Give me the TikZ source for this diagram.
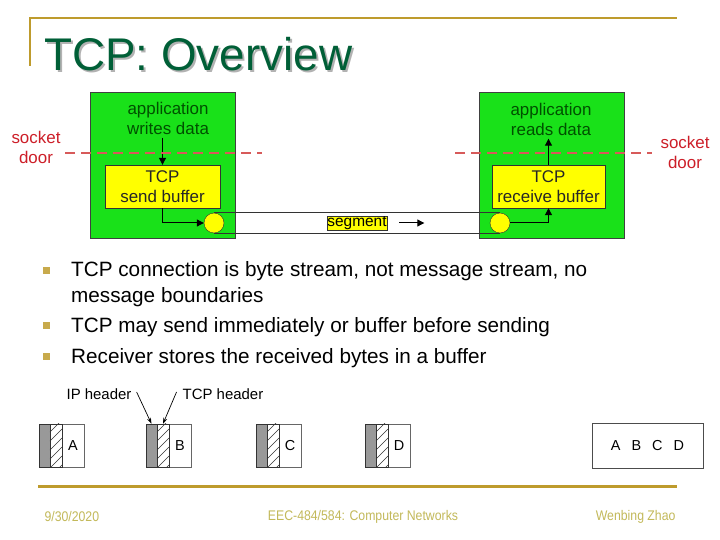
\documentclass[tikz,border=0pt]{standalone}
\usepackage{fontspec}
\setmainfont{Liberation Sans}
\newfontfamily\narrowfont[FakeStretch=0.88]{Liberation Sans}
\usepackage{xcolor}
\usetikzlibrary{arrows.meta,positioning,calc}

\definecolor{slidegold}{RGB}{190,155,45}
\definecolor{titlegreen}{RGB}{0,95,55}
\definecolor{appgreen}{RGB}{25,225,25}
\definecolor{textgreen}{RGB}{0,80,0}
\definecolor{bufyellow}{RGB}{255,255,0}
\definecolor{sockred}{RGB}{205,30,40}
\definecolor{doorred}{RGB}{215,90,90}
\definecolor{footgold}{RGB}{195,185,90}

\begin{document}
\begin{tikzpicture}[x=1bp, y=-1bp,
  appbox/.style={draw=black!75, fill=appgreen, minimum width=145bp, minimum height=146bp, inner sep=0pt},
  bufbox/.style={draw=black!80, fill=bufyellow, minimum width=115bp, minimum height=43bp, inner sep=0pt,
    align=center, text=black!85, font=\fontsize{17}{20}\selectfont},
  apptext/.style={text=textgreen, align=center, font=\fontsize{17}{20}\selectfont},
  socktext/.style={text=sockred, align=center, font=\fontsize{17}{20}\selectfont},
  port/.style={circle, draw=black!80, fill=bufyellow, minimum size=20bp, inner sep=0pt},
  arr/.style={-{Triangle[length=7bp, width=7bp]}, line width=1bp},
  doorline/.style={doorred, dashed, dash pattern=on 10bp off 6bp, line width=1.2bp},
  bullet/.style={fill=slidegold!85, minimum size=7bp, inner sep=0pt},
  btext/.style={anchor=base west, inner sep=0pt, font=\fontsize{20.8}{24}\selectfont},
  iphdr/.style={draw=black!80, fill=black!40, minimum width=11bp, minimum height=43bp, inner sep=0pt},
  tcphdr/.style={draw=black!80, minimum width=12bp, minimum height=43bp, inner sep=0pt},
  datbox/.style={draw=black!60, minimum width=22bp, minimum height=43bp, inner sep=0pt, font=\fontsize{14.5}{16}\selectfont},
  hdrlabel/.style={font=\fontsize{15}{17}\selectfont, inner sep=1pt},
  harr/.style={-{Stealth[length=6bp, width=4bp]}, line width=0.7bp},
  foot/.style={text=footgold, font=\narrowfont\fontsize{14}{16}\selectfont}
]
\useasboundingbox[fill=white] (0,0) rectangle (720,540);

% title frame
\coordinate (frameL) at (30,66);
\coordinate (frameTL) at (30,18);
\coordinate (frameTR) at (677,18);
\draw[slidegold, line width=2.5bp] (frameL) -- (frameTL) -- (frameTR);
\node[anchor=base west, text=black!30, font=\fontsize{46}{50}\selectfont, inner sep=0pt] (titleshadow) at (46,73) {TCP: Overview};
\node[anchor=base west, text=titlegreen, font=\fontsize{46}{50}\selectfont, inner sep=0pt] (title) at (44,71) {TCP: Overview};

% sender and receiver hosts
\node[appbox] (sender) at (162.5,165) {};
\node[appbox] (receiver) at (551.5,165) {};
\node[apptext] (wtext) at (168,118) {application\\writes data};
\node[apptext] (rtext) at (551,119) {application\\reads data};
\node[bufbox] (sbuf) at (162.5,186.5) {TCP\\send buffer};
\node[bufbox, minimum width=113bp] (rbuf) at (548.5,186.5) {TCP\\receive buffer};
\node[port] (sport) at (214,223) {};
\node[port] (rport) at (500,223) {};

% pipe
\draw[black!80, line width=0.9bp] (sport.north) -- (rport.north);
\draw[black!80, line width=0.9bp] (sport.south) -- (rport.south);
\node[draw=black!80, fill=bufyellow, inner sep=0.5pt, font=\fontsize{15.5}{16}\selectfont] (seg) at (357,223) {segment};
\coordinate (segA) at ([xshift=12bp]seg.east);
\coordinate (segB) at ([xshift=37bp]seg.east);
\draw[arr] (segA) -- (segB);

% data flow
\draw[arr] (wtext.south -| sbuf.north) -- (sbuf.north);
\draw[arr] (sbuf.south) |- (sport.west);
\draw[arr] (rport.east) -| (rbuf.south);
\draw[arr] (rbuf.north) -- (rtext.south -| rbuf.north);

% socket doors
\node[socktext] (sockL) at (36,147) {socket\\door};
\node[socktext] (sockR) at (685,152) {socket\\door};
\coordinate (dL1) at (65,153);
\coordinate (dL2) at (262,153);
\coordinate (dR1) at (455,153);
\coordinate (dR2) at (652,153);
\draw[doorline] (dL1) -- (dL2);
\draw[doorline] (dR1) -- (dR2);

% bullets
\node[bullet] (b1) at (46,270) {};
\node[bullet] (b2) at (46,325) {};
\node[bullet] (b3) at (46,356) {};
\node[btext] (t1) at (71,277) {TCP connection is byte stream, not message stream, no};
\node[btext] (t1b) at (71,302) {message boundaries};
\node[btext] (t2) at (71,332) {TCP may send immediately or buffer before sending};
\node[btext] (t3) at (71,363) {Receiver stores the received bytes in a buffer};

% segments carrying A..D
\foreach \l/\x in {A/39, B/146, C/256, D/365} {
  \node[iphdr] (ip\l) at (\x+5.5,445.5) {};
  \node[tcphdr] (tcp\l) at (\x+17,445.5) {};
  \node[datbox] (dat\l) at (\x+34,445.5) {\l};
  \begin{scope}
    \clip (tcp\l.south west) rectangle (tcp\l.north east);
    \foreach \k in {0,...,5}
      \draw[black!80, line width=0.5bp] (\x+11,432+\k*9) -- (\x+23,420+\k*9);
  \end{scope}
  \draw[black!80] (tcp\l.south west) rectangle (tcp\l.north east);
}
\node[hdrlabel] (iplab) at (99,394) {IP header};
\node[hdrlabel] (tcplab) at (223,394) {TCP header};
\draw[harr] ([xshift=4bp,yshift=2bp]iplab.east) -- (ipB.north);
\draw[harr] ([xshift=-5bp,yshift=2bp]tcplab.west) -- (tcpB.north);

% received byte stream
\node[draw=black!70, minimum width=111bp, minimum height=45bp, font=\fontsize{14.5}{16}\selectfont] (stream) at (647.5,445.5) {A\hspace{11bp}B\hspace{11bp}C\hspace{11bp}D};

% footer
\coordinate (footL) at (38,486);
\coordinate (footR) at (677,486);
\draw[slidegold, line width=3bp] (footL) -- (footR);
\node[foot, anchor=west] (date) at (41,517) {9/30/2020};
\node[foot] (course) at (363,517) {EEC-484/584: Computer Networks};
\node[foot, anchor=east] (author) at (679,517) {Wenbing Zhao};
\end{tikzpicture}
\end{document}
